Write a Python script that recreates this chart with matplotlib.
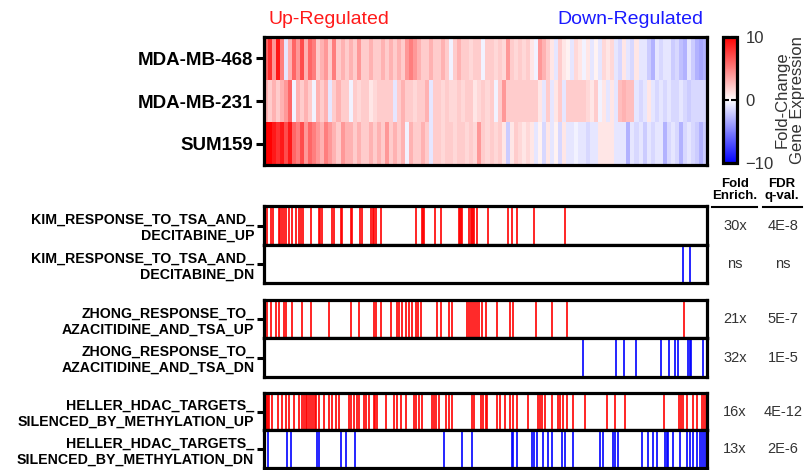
import numpy as np
import matplotlib
matplotlib.use("Agg")
import matplotlib.pyplot as plt
from matplotlib.lines import Line2D

plt.rcParams["font.family"] = ["Liberation Sans", "DejaVu Sans"]

# fold-change per gene bin, genes ranked from most up to most down
cell_lines = ["MDA-MB-468", "MDA-MB-231", "SUM159"]
fc_468 = [6, 8, 4, 9, 5, -1, 3, 6, 4, 7, 3, 6, 5, 2, 3, 4, 2, 5, 2, 3, 2, 3, 2, 4, 2, 2, 3, 2,
          2, 3, 2, 3, 2, 3, 2, 4, 5, 4, 3, 2, 2, 3, 2, 2, 3, 2, -0.5, 2, 3, 2, 2, 1.5, 2, 2, -0.5, 2,
          2, 1.5, 2, 1.5, 4, 2, 1.5, 2, 1.5, 2, 1, -0.5, 4, 3, 2, 1, -1, 2, 1, 0.5, -1, 1.5, 1, -0.5, 1, -1, 0.5, -1,
          1.5, 1, 1.5, -1, -1.5, 1, -1, -1.5, 1, -1, -1, -2, -3, -1, -1.5, -1, -1, -2, -1.5, -2.5, -3, -1, -2, -3, -3.5, -3]
fc_231 = [3, 2, 3, 2, 3, 4, 6, -0.5, 3, 2, 3, 2, -0.5, 3, 2, 3, -1, 2, 3, 2, 2, -0.5, 2, 1.5, 2, 2, 1, 1.5,
          2, 2, 2, 2, -1, 2, 3, 2, 2, 1.5, 2, 2, 3, -1, 2, 2, 1.5, 2, 1.5, 1.5, 2, 1.5, 2, 2, 1, 1.5, 2, 1.5,
          2, -0.5, 2, 4, 2, 2, 2, 2, 2, 2, 2, 2, 1, -1, 2, -1, 1, 2, -1, 2, 2, 2, 2, 2, 1.5, 1, 2, -0.5,
          1, -1, 1, -1, 2.5, 3, 2.5, 2.5, -1, -1.5, -1, 1, -1, -1.5, -1, -1.5, -1, -1.5, -1.5, -1, -1.5, -2, -1.5, -1.5, -1.5, -1.5]
fc_159 = [10, 10, 9, 8, 9, 7, 9, 6, 5, 7, 4, 6, 5, 4, 3, 5, 4, 3, 2, 4, 3, 3, 2, 3, 2, 2, 3, 2,
          3, 2, 4, 2, 3, 2, 3, -0.5, 3, 2, 2, 3, 2, -1, 2, 2, 1.5, 2, 2, 1.5, 2, 2, 1.5, 2, 1.5, 4, 2, 1.5,
          2, 1.5, 2, 1, -2, 1, 2, 1.5, 1, 1.5, 1, -1, 0.5, -1.5, 1, -1, 0.5, -1.5, 1, -1, -1, -0.5, -1, -1, -1.5, -1, -1, 1,
          1, 1, 1, -1, -1, -1, -3, -1, -1.5, -1, -2, -1, -1.5, -1, -1, -3, -1.5, -1, -1.5, -3, -1.5, -1, -1.5, -2, -3, -2]

n_genes = 442

# gene-set hits, as positions in the ranked gene list
gene_sets = [
    "KIM_RESPONSE_TO_TSA_AND_\nDECITABINE_UP",
    "KIM_RESPONSE_TO_TSA_AND_\nDECITABINE_DN",
    "ZHONG_RESPONSE_TO_\nAZACITIDINE_AND_TSA_UP",
    "ZHONG_RESPONSE_TO_\nAZACITIDINE_AND_TSA_DN",
    "HELLER_HDAC_TARGETS_\nSILENCED_BY_METHYLATION_UP",
    "HELLER_HDAC_TARGETS_\nSILENCED_BY_METHYLATION_DN",
]
kim_up = [3, 7, 9, 15, 16, 18, 20, 22, 25, 28, 32, 35, 37, 39, 47, 55, 56, 58, 68, 70, 77, 78, 87, 88,
          96, 98, 107, 109, 110, 112, 117, 152, 158, 159, 160, 171, 177, 195, 196, 197, 198, 205, 207,
          208, 209, 210, 213, 223, 243, 247, 252, 269, 300]
kim_dn = [418, 425]
zhong_up = [3, 7, 12, 15, 20, 22, 28, 38, 47, 65, 87, 95, 110, 112, 117, 127, 133, 135, 138, 142, 145,
            148, 152, 154, 157, 173, 177, 185, 188, 203, 205, 207, 209, 211, 213, 215, 218, 221, 232,
            245, 248, 271, 287, 302, 419]
zhong_dn = [318, 351, 359, 371, 396, 404, 410, 413, 423, 425, 426, 438]
heller_up = [2, 3, 4, 5, 8, 14, 18, 22, 25, 30, 35, 38, 40, 42, 43, 45, 47, 49, 51, 52, 55, 60, 65, 68,
             72, 75, 85, 87, 90, 93, 95, 100, 102, 105, 110, 111, 113, 122, 130, 133, 137, 142, 150,
             152, 155, 158, 168, 170, 172, 175, 182, 185, 188, 208, 210, 217, 219, 221, 222, 232, 235,
             240, 245, 248, 252, 263, 273, 275, 277, 280, 287, 293, 295, 298, 302, 308, 320, 342, 350,
             360, 399, 414, 416, 418, 422, 428, 432, 437, 439, 441]
heller_dn = [4, 23, 27, 53, 55, 77, 82, 91, 180, 198, 208, 247, 248, 252, 267, 269, 272, 278, 283, 287,
             297, 300, 308, 335, 338, 348, 350, 353, 377, 383, 388, 392, 400, 402, 403, 408, 415, 422,
             425, 428, 432, 435, 437, 439, 441, 442]
hits = [kim_up, kim_dn, zhong_up, zhong_dn, heller_up, heller_dn]
fold_enrich = ["30x", "ns", "21x", "32x", "16x", "13x"]
fdr_qval = ["4E-8", "ns", "5E-7", "1E-5", "4E-12", "2E-6"]

W, H = 808, 470
FRAME = 2.3


def fig_box(x0, y0, x1, y1):
    # pixel box (top-left origin) -> figure fraction rect
    return [x0 / W, 1 - y1 / H, (x1 - x0) / W, (y1 - y0) / H]


def style_frame(ax):
    for s in ax.spines.values():
        s.set_linewidth(FRAME)
        s.set_color("black")


fig = plt.figure(figsize=(W / 100, H / 100), dpi=100)

# heatmap
ax = fig.add_axes(fig_box(264, 37, 707, 165))
data = np.array([fc_468, fc_231, fc_159], dtype=float)
im = ax.imshow(data, cmap="bwr", vmin=-10, vmax=10, aspect="auto",
               interpolation="nearest", extent=(0, n_genes, 3, 0))
ax.set_xticks([])
ax.set_yticks([0.5, 1.5, 2.5], cell_lines)
ax.tick_params(axis="y", length=6, width=2.2, pad=2, labelsize=13.5)
for t in ax.get_yticklabels():
    t.set_fontweight("bold")
style_frame(ax)

fig.text(268 / W, 1 - 19 / H, "Up-Regulated", color="#ff1a1a", fontsize=14,
         ha="left", va="center")
fig.text(703 / W, 1 - 19 / H, "Down-Regulated", color="#1a1aff", fontsize=14,
         ha="right", va="center")

# colorbar
cax = fig.add_axes(fig_box(723, 37, 737, 163))
cb = fig.colorbar(im, cax=cax, ticks=[-10, 0, 10])
cb.outline.set_linewidth(FRAME)
cax.tick_params(direction="in", length=4, width=1.5, left=True, right=True,
                labelsize=12, labelcolor="#333333", pad=6)
cax.yaxis.set_ticks_position("both")
cb.set_label("Fold-Change\nGene Expression", fontsize=12, color="#333333",
             labelpad=1, linespacing=1.0)

# barcode panels
panel_rows = [(206, 245), (245, 283), (300, 338), (338, 377), (393, 430), (430, 468)]
for i, (y0, y1) in enumerate(panel_rows):
    bx = fig.add_axes(fig_box(264, y0, 707, y1))
    col = "#ff0000" if i % 2 == 0 else "#0000ff"
    bx.vlines(hits[i], 0, 1, color=col, lw=1.2)
    bx.set_xlim(0, n_genes)
    bx.set_ylim(0, 1)
    bx.set_xticks([])
    bx.set_yticks([0.5], [gene_sets[i]])
    bx.tick_params(axis="y", length=5, width=2.2, pad=2, labelsize=10.2)
    for t in bx.get_yticklabels():
        t.set_fontweight("bold")
        t.set_multialignment("right")
    style_frame(bx)
    yc = 1 - (y0 + y1) / 2 / H
    fig.text(735 / W, yc, fold_enrich[i], fontsize=10.5, color="#333333", ha="center", va="center")
    fig.text(783 / W, yc, fdr_qval[i], fontsize=10.5, color="#333333", ha="center", va="center")

# column headers
fig.text(735 / W, 1 - 190 / H, "Fold\nEnrich.", fontsize=9.5, fontweight="bold",
         ha="center", va="center", linespacing=1.1)
fig.text(782 / W, 1 - 190 / H, "FDR\nq-val.", fontsize=9.5, fontweight="bold",
         ha="center", va="center", linespacing=1.1)
for x0, x1 in [(712, 757), (763, 802)]:
    fig.add_artist(Line2D([x0 / W, x1 / W], [1 - 207 / H] * 2, color="black", lw=1.5,
                          transform=fig.transFigure))

fig.savefig("out.png", dpi=100)
